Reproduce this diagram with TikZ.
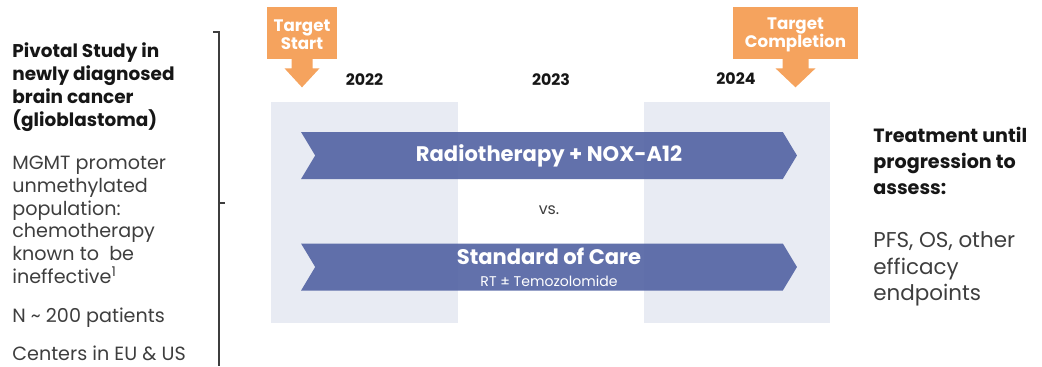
\documentclass[tikz,border=0pt]{standalone}
\usepackage{fontspec}
\setmainfont{Poppins}
\usetikzlibrary{shapes.symbols}
\usetikzlibrary{calc}

\definecolor{panelgray}{RGB}{232,235,243}
\definecolor{armblue}{RGB}{86,102,165}
\definecolor{targetorange}{RGB}{245,163,94}
\definecolor{textgray}{RGB}{62,62,62}
\definecolor{headblack}{RGB}{22,22,22}

\begin{document}
\begin{tikzpicture}[x=0.02cm,y=-0.02cm,
  arm/.style={signal,signal from=west,signal to=east,signal pointer angle=118,
    fill=armblue,fill opacity=0.93,text opacity=1,text=white,
    minimum width=9.92cm,minimum height=0.94cm,inner sep=0pt,align=center,
    font=\bfseries\fontsize{12}{13}\selectfont},
  target/.style={fill=targetorange,text=white,align=center,minimum height=1.04cm,
    inner sep=0pt,font=\bfseries\fontsize{9.5}{10.4}\selectfont},
  year/.style={text=headblack,inner sep=0pt,font=\bfseries\fontsize{9}{10}\selectfont},
  lefthead/.style={anchor=north west,inner sep=0pt,align=left,text=headblack,
    font=\bfseries\fontsize{10.5}{13.2}\selectfont},
  lefttext/.style={anchor=north west,inner sep=0pt,align=left,text=textgray,
    font=\fontsize{10.9}{13}\selectfont},
  righthead/.style={anchor=north west,inner sep=0pt,align=left,text=headblack,
    font=\bfseries\fontsize{10.9}{14.7}\selectfont},
  righttext/.style={anchor=north west,inner sep=0pt,align=left,text=textgray,
    font=\fontsize{12.2}{15}\selectfont}]
\useasboundingbox (0,0) rectangle (1042,366);

% study description and bracket
\node[lefthead] (study) at (12,42) {Pivotal Study in\\newly diagnosed\\brain cancer\\(glioblastoma)};
\node[lefttext] (mgmt) at (12,155.5) {MGMT promoter\\unmethylated\\population:\\chemotherapy\\known to\ \ be\\ineffective\textsuperscript{1}};
\node[lefttext] (npat) at (12,307.5) {N \textasciitilde{} 200 patients};
\node[lefttext] (centers) at (12,346) {Centers in EU \& US};
\draw[textgray,line width=0.6pt] (213,32) -- (219,32) -- (219,366) (219,203) -- (225,203);

% year panels
\fill[panelgray] (271,102) rectangle (458,323);
\fill[panelgray] (644,102) rectangle (830,323);
\node[year] (y22) at (364.5,79.5) {2022};
\node[year] (y23) at (551,79.5) {2023};
\node[year] (y24) at (736,79) {2024};

% study arms
\node[arm] (rt) at (549,155.5) {Radiotherapy + NOX-A12};
\node[text=textgray,font=\fontsize{9}{10}\selectfont] (vs) at (549,210) {vs.};
\node[arm] (soc) at (549,267) {Standard of Care\\[-0.5pt]{\normalfont\fontsize{8}{9}\selectfont RT ± Temozolomide}};

% target dates (the strut pushes the two lines a little lower in the box)
\node[target,minimum width=1.4cm] (tstart) at (302,33) {\rule{0pt}{9pt}Target\\Start};
\node[target,minimum width=2.5cm] (tend) at (795.5,33) {\rule{0pt}{9pt}Target\\Completion};
\fill[targetorange] ($(tstart.south)+(-10.5,-0.5)$) -- ++(0,9.5) -- ++(-7,0) -- ($(tstart.south)+(0,28)$)
  -- ($(tstart.south)+(17.5,9)$) -- ++(-7,0) -- ++(0,-9.5) -- cycle;
\fill[targetorange] ($(tend.south)+(-13,-0.5)$) -- ++(0,9.5) -- ++(-7,0) -- ($(tend.south)+(0,28)$)
  -- ($(tend.south)+(20,9)$) -- ++(-7,0) -- ++(0,-9.5) -- cycle;

% outcome
\node[righthead] (treat) at (873,127) {Treatment until\\progression to\\assess:};
\node[righttext] (pfs) at (873,231.5) {PFS, OS, other\\efficacy\\endpoints};
\end{tikzpicture}
\end{document}
